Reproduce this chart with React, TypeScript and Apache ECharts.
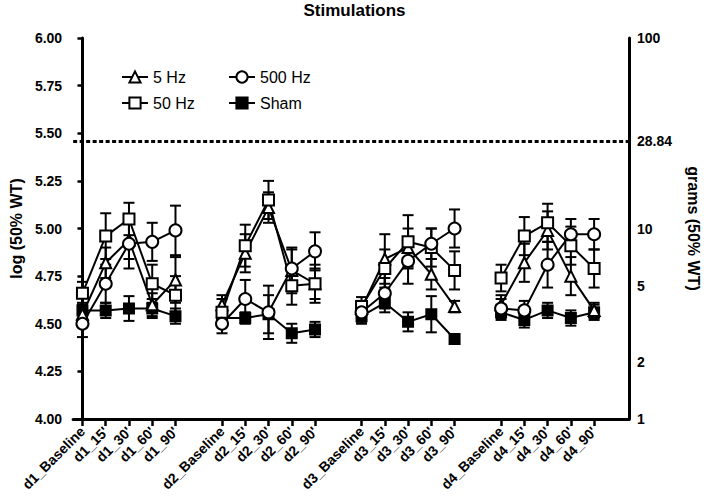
import React, { useEffect, useRef } from "react";
import * as echarts from "echarts";

const categories = [
  "d1_Baseline", "d1_15'", "d1_30'", "d1_60'", "d1_90'", "",
  "d2_Baseline", "d2_15'", "d2_30'", "d2_60'", "d2_90'", "",
  "d3_Baseline", "d3_15'", "d3_30'", "d3_60'", "d3_90'", "",
  "d4_Baseline", "d4_15'", "d4_30'", "d4_60'", "d4_90'",
];

const hz5 = [4.55, 4.82, 4.94, 4.60, 4.73, null, 4.60, 4.87, 5.11, 4.78, 4.71, null, 4.58, 4.84, 4.90, 4.76, 4.59, null, 4.60, 4.82, 4.99, 4.75, 4.57];
const hz5Err = [0.05, 0.08, 0.10, 0.06, 0.12, null, 0.05, 0.10, 0.08, 0.12, 0.08, null, 0.04, 0.13, 0.10, 0.08, 0.03, null, 0.05, 0.10, 0.10, 0.10, 0.04];

const hz50 = [4.66, 4.96, 5.05, 4.71, 4.65, null, 4.56, 4.91, 5.15, 4.70, 4.71, null, 4.59, 4.79, 4.93, 4.90, 4.78, null, 4.74, 4.96, 5.03, 4.91, 4.79];
const hz50Err = [0.06, 0.12, 0.085, 0.10, 0.10, null, 0.07, 0.11, 0.10, 0.10, 0.10, null, 0.05, 0.10, 0.14, 0.10, 0.10, null, 0.07, 0.10, 0.10, 0.10, 0.10];

const hz500 = [4.50, 4.71, 4.92, 4.93, 4.99, null, 4.50, 4.63, 4.56, 4.79, 4.88, null, 4.56, 4.66, 4.83, 4.92, 5.00, null, 4.58, 4.57, 4.81, 4.97, 4.97];
const hz500Err = [0.07, 0.10, 0.13, 0.10, 0.13, null, 0.05, 0.10, 0.14, 0.10, 0.10, null, 0.05, 0.08, 0.12, 0.08, 0.10, null, 0.05, 0.05, 0.12, 0.08, 0.08];

const sham = [4.57, 4.57, 4.58, 4.58, 4.54, null, 4.53, 4.53, 4.55, 4.45, 4.47, null, 4.54, 4.61, 4.51, 4.55, 4.42, null, 4.56, 4.52, 4.57, 4.53, 4.56];
const shamErr = [0.04, 0.04, 0.065, 0.05, 0.04, null, 0.04, 0.03, 0.10, 0.05, 0.04, null, 0.04, 0.05, 0.05, 0.095, 0.02, null, 0.04, 0.04, 0.04, 0.04, 0.04];

const leftTicks = [4.0, 4.25, 4.5, 4.75, 5.0, 5.25, 5.5, 5.75, 6.0];
const rightTickGrams = [1, 2, 5, 10, 28.84, 100];
const thresholdGrams = 28.84;

const FONT = "'Liberation Sans', Arial, Helvetica, sans-serif";

const toLog = (g: number) => Math.log10(g) + 4;

function lineData(vals: (number | null)[]) {
  return vals.map((v, i) => [i, v === null ? "-" : v]);
}

function errData(vals: (number | null)[], errs: (number | null)[]) {
  const out: number[][] = [];
  vals.forEach((v, i) => {
    const e = errs[i];
    if (v !== null && e !== null) out.push([i, v - e, v + e]);
  });
  return out;
}

function errSeries(name: string, vals: (number | null)[], errs: (number | null)[]) {
  return {
    type: "custom",
    name: name + " err",
    z: 1,
    silent: true,
    data: errData(vals, errs),
    encode: { x: 0, y: [1, 2] },
    renderItem: (params: any, api: any) => {
      const x = api.value(0);
      const lo = api.coord([x, api.value(1)]);
      const hi = api.coord([x, api.value(2)]);
      const w = 5.5;
      const style = { stroke: "#000", lineWidth: 2 };
      return {
        type: "group",
        children: [
          { type: "line", shape: { x1: lo[0], y1: lo[1], x2: hi[0], y2: hi[1] }, style },
          { type: "line", shape: { x1: lo[0] - w, y1: lo[1], x2: lo[0] + w, y2: lo[1] }, style },
          { type: "line", shape: { x1: hi[0] - w, y1: hi[1], x2: hi[0] + w, y2: hi[1] }, style },
        ],
      };
    },
  };
}

function lineSeries(name: string, vals: (number | null)[], symbol: string, size: number, filled: boolean, extra: any = {}) {
  return {
    type: "line",
    name,
    z: 3,
    data: lineData(vals),
    connectNulls: false,
    symbol,
    symbolSize: size,
    showAllSymbol: true,
    lineStyle: { color: "#000", width: 2 },
    itemStyle: { color: filled ? "#000" : "#fff", borderColor: "#000", borderWidth: 2 },
    emphasis: { disabled: true },
    ...extra,
  };
}

export default function App() {
  const ref = useRef<HTMLDivElement>(null);
  useEffect(() => {
    if (!ref.current) return;
    const chart = echarts.init(ref.current, null, { renderer: "svg" });
    const labelIdx = categories.map((c, i) => (c ? i : -1)).filter((i) => i >= 0);
    const legendCommon = {
      orient: "vertical",
      top: 64,
      itemWidth: 26,
      itemHeight: 14,
      itemGap: 10,
      textStyle: { fontFamily: FONT, fontSize: 16, color: "#000" },
    };
    const option: any = {
      animation: false,
      backgroundColor: "#fff",
      textStyle: { fontFamily: FONT },
      title: {
        text: "Stimulations",
        left: "center",
        top: 2,
        padding: 0,
        textStyle: { fontFamily: FONT, fontSize: 17, fontWeight: "bold", color: "#000" },
      },
      legend: [
        { ...legendCommon, data: ["5 Hz", "50 Hz"], left: 116 },
        { ...legendCommon, data: ["500 Hz", "Sham"], left: 223 },
      ],
      grid: { left: 68, right: 72, top: 38, bottom: 80 },
      xAxis: {
        type: "value",
        min: -0.4,
        max: 23.5,
        splitLine: { show: false },
        axisLine: { lineStyle: { color: "#000", width: 3 } },
        axisTick: { show: true, length: 7, lineStyle: { color: "#000", width: 2.5 }, customValues: labelIdx },
        axisLabel: {
          customValues: labelIdx,
          rotate: 45,
          margin: 10,
          fontFamily: FONT,
          fontSize: 14,
          fontWeight: "bold",
          color: "#000",
          formatter: (v: number) => categories[Math.round(v)] || "",
        },
      },
      yAxis: [
        {
          type: "value",
          min: 4,
          max: 6,
          interval: 0.25,
          position: "left",
          name: "log (50% WT)",
          nameLocation: "middle",
          nameGap: 46,
          nameTextStyle: { fontFamily: FONT, fontSize: 16, fontWeight: "bold", color: "#000" },
          splitLine: { show: false },
          axisLine: { show: true, lineStyle: { color: "#000", width: 3 } },
          axisTick: { show: true, length: 5, lineStyle: { color: "#000", width: 2.5 }, customValues: leftTicks },
          axisLabel: {
            customValues: leftTicks,
            margin: 11,
            fontFamily: FONT,
            fontSize: 14,
            fontWeight: "bold",
            color: "#000",
            formatter: (v: number) => v.toFixed(2),
          },
        },
        {
          type: "value",
          min: 4,
          max: 6,
          position: "right",
          name: "grams (50% WT)",
          nameLocation: "middle",
          nameRotate: -90,
          nameGap: 56,
          nameTextStyle: { fontFamily: FONT, fontSize: 16, fontWeight: "bold", color: "#000" },
          splitLine: { show: false },
          axisLine: { show: true, lineStyle: { color: "#000", width: 3 } },
          axisTick: { show: false },
          axisLabel: {
            customValues: rightTickGrams.map(toLog),
            margin: 8,
            fontFamily: FONT,
            fontSize: 14,
            fontWeight: "bold",
            color: "#000",
            formatter: (v: number) => {
              let best = rightTickGrams[0];
              rightTickGrams.forEach((g) => {
                if (Math.abs(toLog(g) - v) < Math.abs(toLog(best) - v)) best = g;
              });
              return String(best);
            },
          },
        },
      ],
      series: [
        errSeries("5 Hz", hz5, hz5Err),
        errSeries("50 Hz", hz50, hz50Err),
        errSeries("500 Hz", hz500, hz500Err),
        errSeries("Sham", sham, shamErr),
        lineSeries("Sham", sham, "rect", 10, true, {
          markLine: {
            silent: true,
            symbol: ["none", "none"],
            label: { show: false },
            lineStyle: { color: "#000", width: 3, type: [4, 2.5] },
            emphasis: { disabled: true },
            data: [{ yAxis: toLog(thresholdGrams) }],
          },
        }),
        lineSeries("5 Hz", hz5, "triangle", 11, false),
        lineSeries("50 Hz", hz50, "rect", 11, false),
        lineSeries("500 Hz", hz500, "circle", 12, false),
      ],
    };
    chart.setOption(option);
    return () => chart.dispose();
  }, []);
  return <div ref={ref} style={{ position: "fixed", left: 0, top: 0, width: 709, height: 499 }} />;
}
